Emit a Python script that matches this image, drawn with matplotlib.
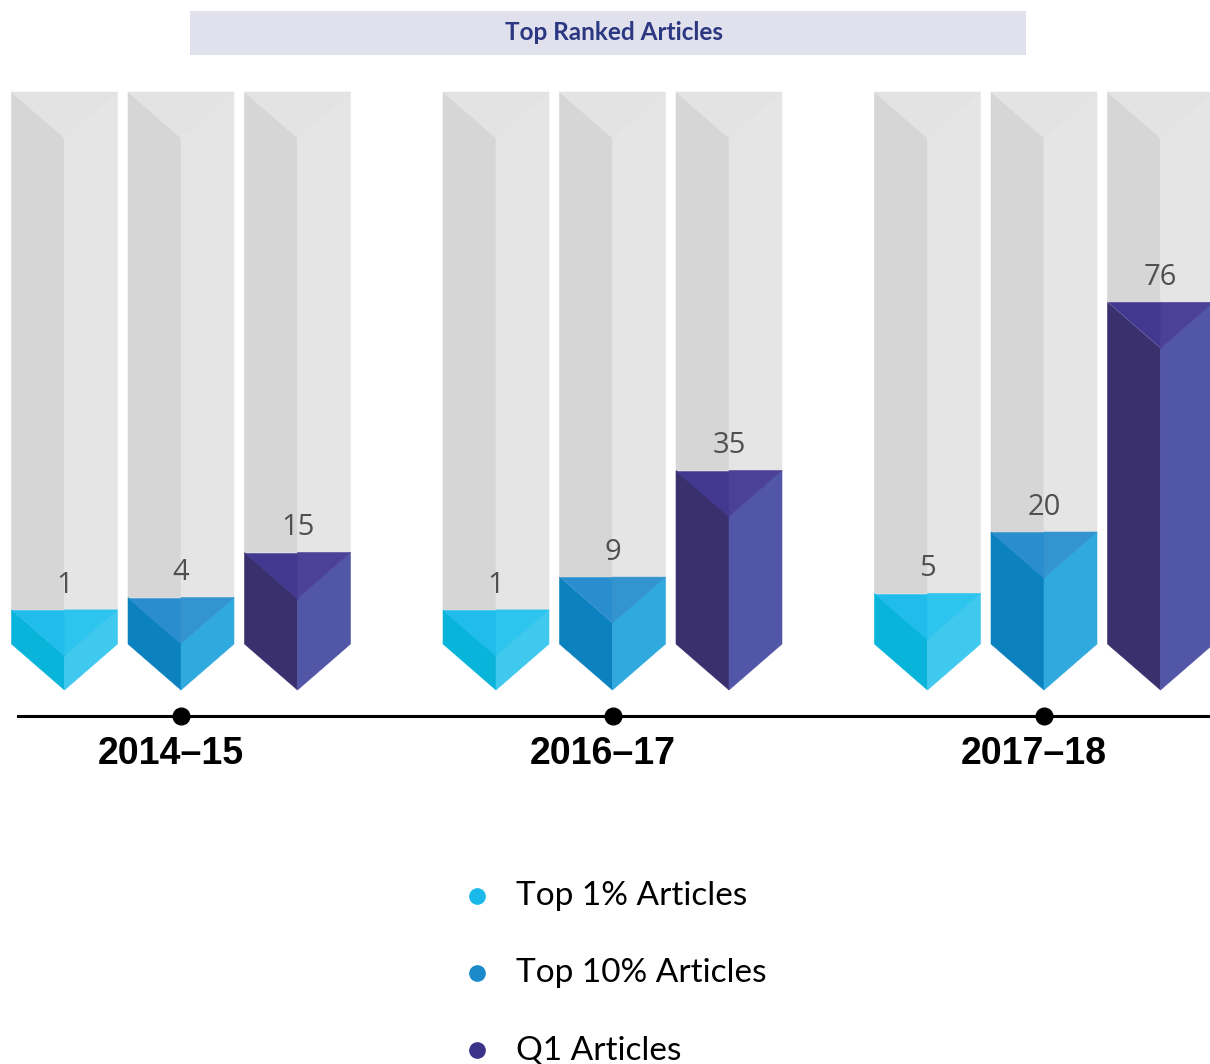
import matplotlib
matplotlib.use("Agg")
import matplotlib.pyplot as plt
from matplotlib.patches import Polygon, Rectangle

# data
years = ["2014–15", "2016–17", "2017–18"]
series_names = ["Top 1% Articles", "Top 10% Articles", "Q1 Articles"]
top1_vals = [1, 1, 5]
top10_vals = [4, 9, 20]
q1_vals = [15, 35, 76]

# colours: top-left, top-right, body-left, body-right, legend dot
series_colors = [
    ("#1fbcec", "#2dc4ee", "#08b4d9", "#40c9ef", "#1ab9ec"),
    ("#2a8dcd", "#3394d0", "#0b81bf", "#2fa9de", "#1b89ca"),
    ("#43388f", "#4b4196", "#39306d", "#5256a7", "#3b328a"),
]

W, H = 1210, 1064
SCALE = 4.1          # pixels per article
BASE_PX = 644        # pixel row of the bar bottoms (before the chevron)

fig = plt.figure(figsize=(W / 100, H / 100), dpi=100)
ax = fig.add_axes([0, 0, 1, 1])
ax.set_xlim(0, W)
ax.set_ylim((BASE_PX - H) / SCALE, BASE_PX / SCALE)
ax.axis("off")


def y_of(px):
    # pixel row -> data units
    return (BASE_PX - px) / SCALE


half = 53                 # half bar width
step = 116.5              # distance between bars inside a group
group_x0, group_gap = 181, 431.5
chev = 46 / SCALE         # depth of the chevrons
min_body = 30 / SCALE     # extra body so small values stay visible
gray_top = y_of(92)


def poly(pts, color, z):
    ax.add_patch(Polygon(pts, closed=True, facecolor=color, edgecolor=color,
                         linewidth=0.4, zorder=z))


def draw_bar(c, top, cols):
    tl, tr, bl, br = cols[:4]
    # grey track above the bar
    poly([(c - half, gray_top), (c, gray_top - chev), (c, top), (c - half, top)], "#d6d6d6", 1)
    poly([(c + half, gray_top), (c, gray_top - chev), (c, top), (c + half, top)], "#e5e5e5", 1)
    poly([(c - half, gray_top), (c + half, gray_top), (c, gray_top - chev)], "#e3e3e3", 1.5)
    # coloured body with chevron bottom
    poly([(c - half, top), (c, top - chev), (c, -chev), (c - half, 0)], bl, 2)
    poly([(c + half, top), (c, top - chev), (c, -chev), (c + half, 0)], br, 2)
    # top face
    poly([(c - half, top), (c, top), (c, top - chev)], tl, 3)
    poly([(c, top), (c + half, top), (c, top - chev)], tr, 3)


all_vals = [top1_vals, top10_vals, q1_vals]
centers = [group_x0 + g * group_gap for g in range(len(years))]

for g, gc in enumerate(centers):
    for s, vals in enumerate(all_vals):
        c = gc + (s - 1) * step
        top = min_body + vals[g]
        draw_bar(c, top, series_colors[s])
        ax.text(c, top + 4.2, str(vals[g]), ha="center", va="baseline",
                fontsize=21, color="#505050", family="Open Sans", zorder=5)

# timeline
ty = y_of(716)
ax.plot([18, W], [ty, ty], color="black", lw=2.2, zorder=4)
ax.plot(centers, [ty] * len(centers), "o", ms=12, color="black", zorder=5)
for gc, yr in zip(centers, years):
    ax.text(gc - 10, y_of(754), yr, ha="center", va="center", fontsize=27,
            fontweight="bold", family="Liberation Sans", color="black")

# title box
fig.patches.append(Rectangle((190 / W, 1 - 55 / H), 836 / W, 44 / H,
                             transform=fig.transFigure, facecolor="#e1e1ee",
                             edgecolor="none"))
fig.text(614 / W, 1 - 33 / H, "Top Ranked Articles", ha="center", va="center",
         fontsize=17.5, fontweight="bold", family="Lato", color="#2b3781")

# legend
for i, name in enumerate(series_names):
    ly = y_of(896 + 77 * i)
    ax.plot(477, ly, "o", ms=11, color=series_colors[i][4], clip_on=False)
    ax.text(516, ly, name, ha="left", va="center", fontsize=24, family="Lato",
            color="black")

fig.savefig("out.png", dpi=100)
